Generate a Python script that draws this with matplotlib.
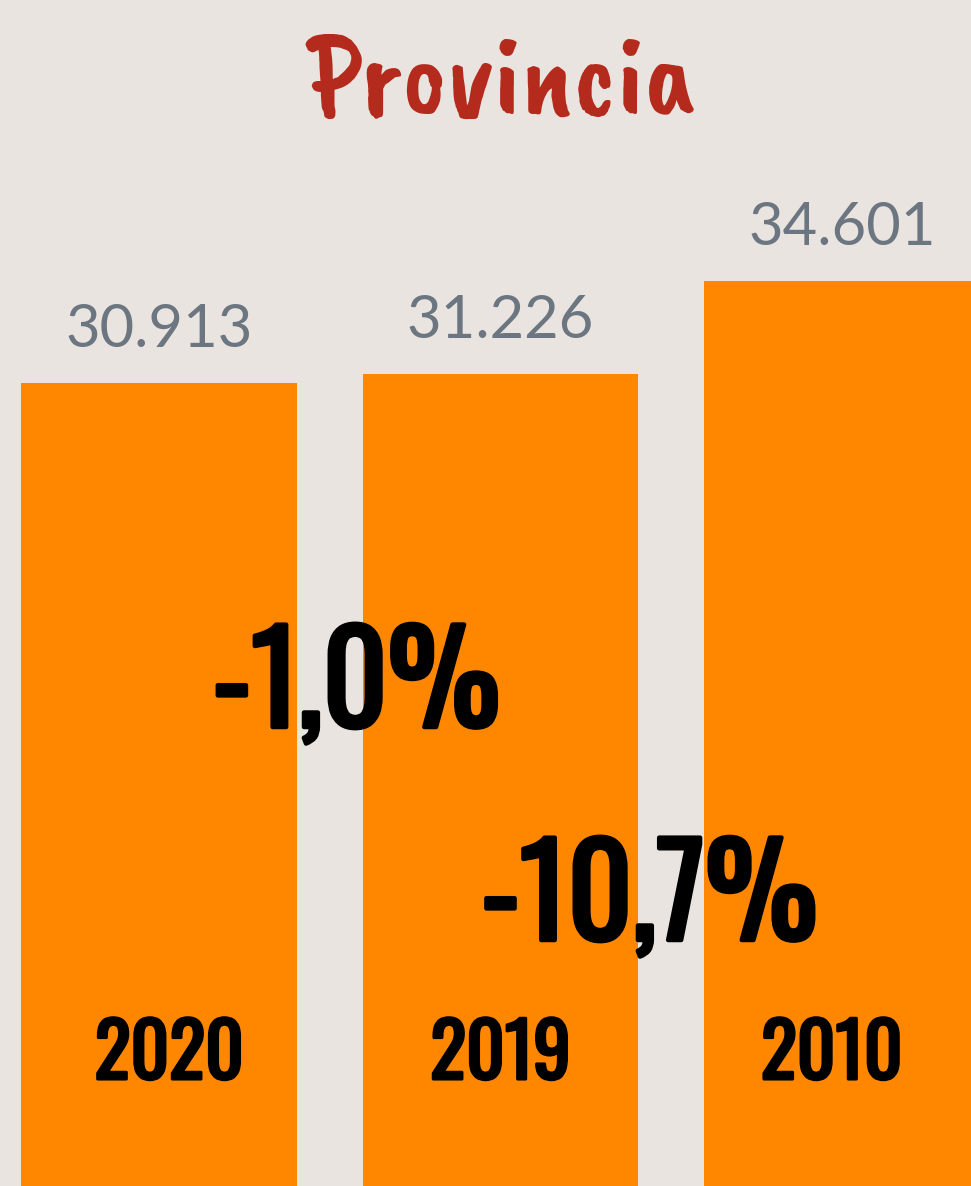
import matplotlib.pyplot as plt
import matplotlib.transforms as mtransforms
import matplotlib.patheffects as pe

years = ["2020", "2019", "2010"]
valores = [30913, 31226, 34601]
# variación de 2020 frente a 2019 y 2010
variaciones = ["-1,0%", "-10,7%"]

# desplazamiento de los años respecto a cada barra, y posición de las variaciones
dx_years = [0.03, 0.0, -0.03]
y_years = 0.0902
pos_variaciones = [(0.578, 0.387), (1.436, 0.2074)]

fondo = "#E9E4DF"
naranja = "#FF8700"
condensada = ["Oswald", "DejaVu Sans"]

fig = plt.figure(figsize=(9.71, 11.86), dpi=100)
fig.set_facecolor(fondo)
ax = fig.add_axes([0, 0, 1, 1])
ax.set_facecolor(fondo)

x = range(len(years))
ax.bar(x, valores, width=0.808, color=naranja)
ax.set_xlim(-0.4656, 2.378)
ax.set_ylim(1880, 44758)
ax.axis("off")

for i, v in enumerate(valores):
    ax.annotate(f"{v:,}".replace(",", "."), (i, v), xytext=(0, 26),
                textcoords="offset points", ha="center", va="baseline",
                fontsize=43, color="#6B7681", family=["Lato", "DejaVu Sans"])

trans = mtransforms.blended_transform_factory(ax.transData, ax.transAxes)
for i, y in enumerate(years):
    ax.text(i + dx_years[i], y_years, y, transform=trans, ha="center", va="baseline",
            fontsize=54, fontweight="bold", color="black", family=condensada,
            path_effects=[pe.withStroke(linewidth=2.2, foreground="black")])

for (px, py), t in zip(pos_variaciones, variaciones):
    ax.text(px, py, t, transform=trans, ha="center", va="baseline",
            fontsize=91, fontweight="bold", color="black", family=condensada,
            path_effects=[pe.withStroke(linewidth=3.2, foreground="black")])

fig.text(0.516, 0.9047, "Provincia", ha="center", va="baseline", fontsize=86,
         color="#B42B1E", family=["Caveat Brush", "DejaVu Sans"])

fig.savefig("out.png", dpi=100, facecolor=fondo)
